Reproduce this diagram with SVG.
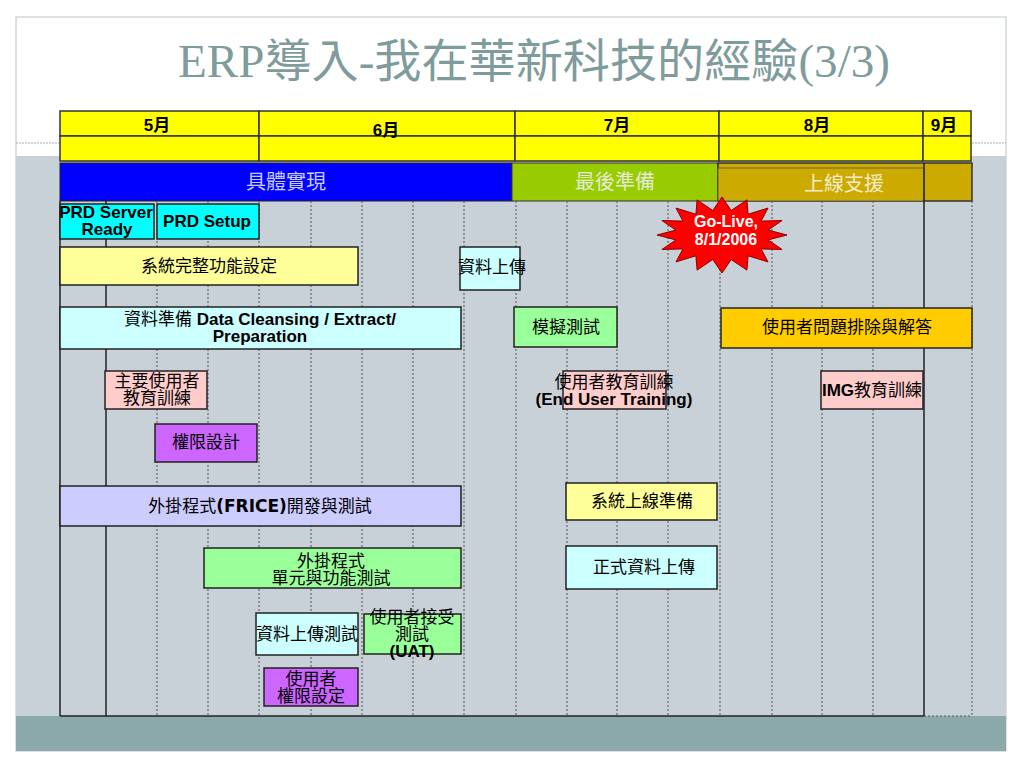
<svg xmlns="http://www.w3.org/2000/svg" width="1024" height="768" viewBox="0 0 1024 768">
<defs>
<style>
text{font-family:"Liberation Sans","Noto Sans CJK TC",sans-serif;font-size:17px;fill:#000;}
.c{text-anchor:middle;}
.b{font-weight:bold;}
.box{stroke:#222;stroke-width:1.5;}
.hdr{fill:#ffff00;stroke:#333;stroke-width:1.5;}
.dash{stroke:#555;stroke-width:1;stroke-dasharray:2 2;fill:none;}
.solid{stroke:#222;stroke-width:1.5;fill:none;}
.phase{font-size:20px;text-anchor:middle;}
</style>
</defs>
<rect width="1024" height="768" fill="#ffffff"/>
<g id="slide">
<rect x="16" y="17" width="990" height="734" fill="#ffffff" stroke="#b9c4c4" stroke-width="1"/>
<rect x="16" y="156" width="990" height="560" fill="#c8d1d7"/>
<rect x="16" y="716" width="990" height="35" fill="#8ba9aa"/>
<line x1="16" y1="143" x2="60" y2="143" stroke="#aab" stroke-width="1" stroke-dasharray="2 1"/>
<line x1="972" y1="143" x2="1006" y2="143" stroke="#aab" stroke-width="1" stroke-dasharray="2 1"/>
</g>
<text id="title" x="534" y="77" class="c" textLength="712" lengthAdjust="spacingAndGlyphs" style="font-family:'Liberation Serif','Noto Sans CJK TC',serif;font-size:46px;fill:#7f9c9c;">ERP導入-我在華新科技的經驗(3/3)</text>
<g id="header">
<rect class="hdr" x="60" y="111" width="199" height="25"/>
<rect class="hdr" x="259" y="111" width="256" height="25"/>
<rect class="hdr" x="515" y="111" width="204" height="25"/>
<rect class="hdr" x="719" y="111" width="204" height="25"/>
<rect class="hdr" x="923" y="111" width="48" height="25"/>
<rect class="hdr" x="60" y="136" width="199" height="25"/>
<rect class="hdr" x="259" y="136" width="256" height="25"/>
<rect class="hdr" x="515" y="136" width="204" height="25"/>
<rect class="hdr" x="719" y="136" width="204" height="25"/>
<rect class="hdr" x="923" y="136" width="48" height="25"/>
<text class="c b" x="157" y="131">5月</text>
<text class="c b" x="386" y="136">6月</text>
<text class="c b" x="617" y="131">7月</text>
<text class="c b" x="817" y="131">8月</text>
<text class="c b" x="944" y="131">9月</text>
</g>
<g id="phases">
<rect x="60" y="163" width="452" height="38" fill="#0000ff" stroke="#222" stroke-width="1"/>
<text class="phase" x="286" y="189" style="fill:#c8ccff">具體實現</text>
<rect x="512" y="163" width="206" height="38" fill="#99cc00" stroke="#333" stroke-width="1"/>
<text class="phase" x="615" y="189" style="fill:#e4ead8">最後準備</text>
<rect x="718" y="163" width="254" height="38" fill="#ccaa00" stroke="#333" stroke-width="1.5"/>
<rect x="718" y="168" width="206" height="33" fill="#ccaa00" stroke="#555" stroke-width="0.8"/>
<text class="phase" x="844" y="191" style="fill:#f2eccc">上線支援</text>
</g>
<g id="grid">
<path class="dash" d="M157 201V716M208 201V716M259 201V716M311 201V716M362 201V716M413 201V716M464 201V716M516 201V716M567 201V716M617 201V716M668 201V716M720 201V716M772 201V716M822 201V716M873 201V716M972 201V716M924 716H972"/>
<path class="solid" d="M60 201V716M106 201V716M924 163V716M60 716H924"/>
</g>
<g id="connectors"></g>
<g id="prd-server">
<rect class="box" x="60" y="204" width="94" height="35" fill="#00ffff"/>
<text class="c b" x="106" y="218">PRD Server</text>
<text class="c b" x="107" y="235">Ready</text>
</g>
<g id="prd-setup">
<rect class="box" x="157" y="204" width="102" height="35" fill="#00ffff"/>
<text class="c b" x="207" y="227">PRD Setup</text>
</g>
<g id="sys-config">
<rect class="box" x="60" y="247" width="298" height="38" fill="#ffff99"/>
<text class="c" x="209" y="272">系統完整功能設定</text>
</g>
<g id="data-upload">
<rect class="box" x="460" y="247" width="60" height="43" fill="#ccffff"/>
<text class="c" x="492" y="273">資料上傳</text>
</g>
<g id="data-prep">
<rect class="box" x="60" y="307" width="401" height="42" fill="#ccffff"/>
<text class="c" x="260" y="325">資料準備 <tspan class="b">Data Cleansing / Extract/</tspan></text>
<text class="c b" x="260" y="342">Preparation</text>
</g>
<g id="key-user-training">
<rect class="box" x="105" y="371" width="102" height="38" fill="#ffcccc"/>
<text class="c" x="157" y="387">主要使用者</text>
<text class="c" x="157" y="404">教育訓練</text>
</g>
<g id="auth-design">
<rect class="box" x="155" y="424" width="102" height="38" fill="#cc66ff"/>
<text class="c" x="206" y="448">權限設計</text>
</g>
<g id="frice-dev">
<rect class="box" x="60" y="486" width="401" height="40" fill="#ccccff"/>
<text class="c" x="260" y="512">外掛程式<tspan class="b" style="font-family:'DejaVu Sans',sans-serif">(FRICE)</tspan>開發與測試</text>
</g>
<g id="frice-test">
<rect class="box" x="204" y="548" width="257" height="40" fill="#99ff99"/>
<text class="c" x="331" y="567">外掛程式</text>
<text class="c" x="331" y="584">單元與功能測試</text>
</g>
<g id="upload-test">
<rect class="box" x="256" y="613" width="102" height="42" fill="#ccffff"/>
<text class="c" x="307" y="640">資料上傳測試</text>
</g>
<g id="uat">
<rect class="box" x="364" y="614" width="97" height="40" fill="#99ff99"/>
<text class="c" x="412" y="623">使用者接受</text>
<text class="c" x="412" y="640">測試</text>
<text class="c b" x="412" y="657">(UAT)</text>
</g>
<g id="user-auth">
<rect class="box" x="264" y="668" width="94" height="38" fill="#cc66ff"/>
<text class="c" x="311" y="685">使用者</text>
<text class="c" x="311" y="702">權限設定</text>
</g>
<g id="simulation-test">
<rect class="box" x="514" y="307" width="103" height="40" fill="#99ff99"/>
<text class="c" x="566" y="333">模擬測試</text>
</g>
<g id="user-support">
<rect class="box" x="721" y="308" width="251" height="40" fill="#ffcc00"/>
<text class="c" x="847" y="333">使用者問題排除與解答</text>
</g>
<g id="end-user-training">
<rect class="box" x="563" y="371" width="103" height="38" fill="#ffcccc"/>
<text class="c" x="614" y="388">使用者教育訓練</text>
<text class="c b" x="614" y="405">(End User Training)</text>
</g>
<g id="img-training">
<rect class="box" x="821" y="371" width="102" height="38" fill="#ffcccc"/>
<text class="c" x="872" y="396"><tspan class="b">IMG</tspan>教育訓練</text>
</g>
<g id="golive-prep">
<rect class="box" x="566" y="483" width="151" height="37" fill="#ffff99"/>
<text class="c" x="642" y="507">系統上線準備</text>
</g>
<g id="formal-upload">
<rect class="box" x="566" y="546" width="151" height="43" fill="#ccffff"/>
<text class="c" x="644" y="573">正式資料上傳</text>
</g>
<g id="go-live">
<polygon points="722,197 731.2,210.5 746.9,199.9 748.1,214.2 768,208.1 761.1,221.1 782.1,220.5 768.1,230.1 787,235 768.1,239.9 782.1,249.5 761.1,248.9 768,261.9 748.1,255.8 746.9,270.1 731.2,259.5 722,273 712.8,259.5 697.1,270.1 695.9,255.8 676,261.9 682.9,248.9 661.9,249.5 675.9,239.9 657,235 675.9,230.1 661.9,220.5 682.9,221.1 676,208.1 695.9,214.2 697.1,199.9 712.8,210.5" fill="#ff0000" stroke="#8b0000" stroke-width="1"/>
<text class="c b" x="726" y="227" style="fill:#ffffff;font-size:16px">Go-Live,</text>
<text class="c b" x="726" y="245" style="fill:#ffffff;font-size:16px">8/1/2006</text>
</g>
</svg>
